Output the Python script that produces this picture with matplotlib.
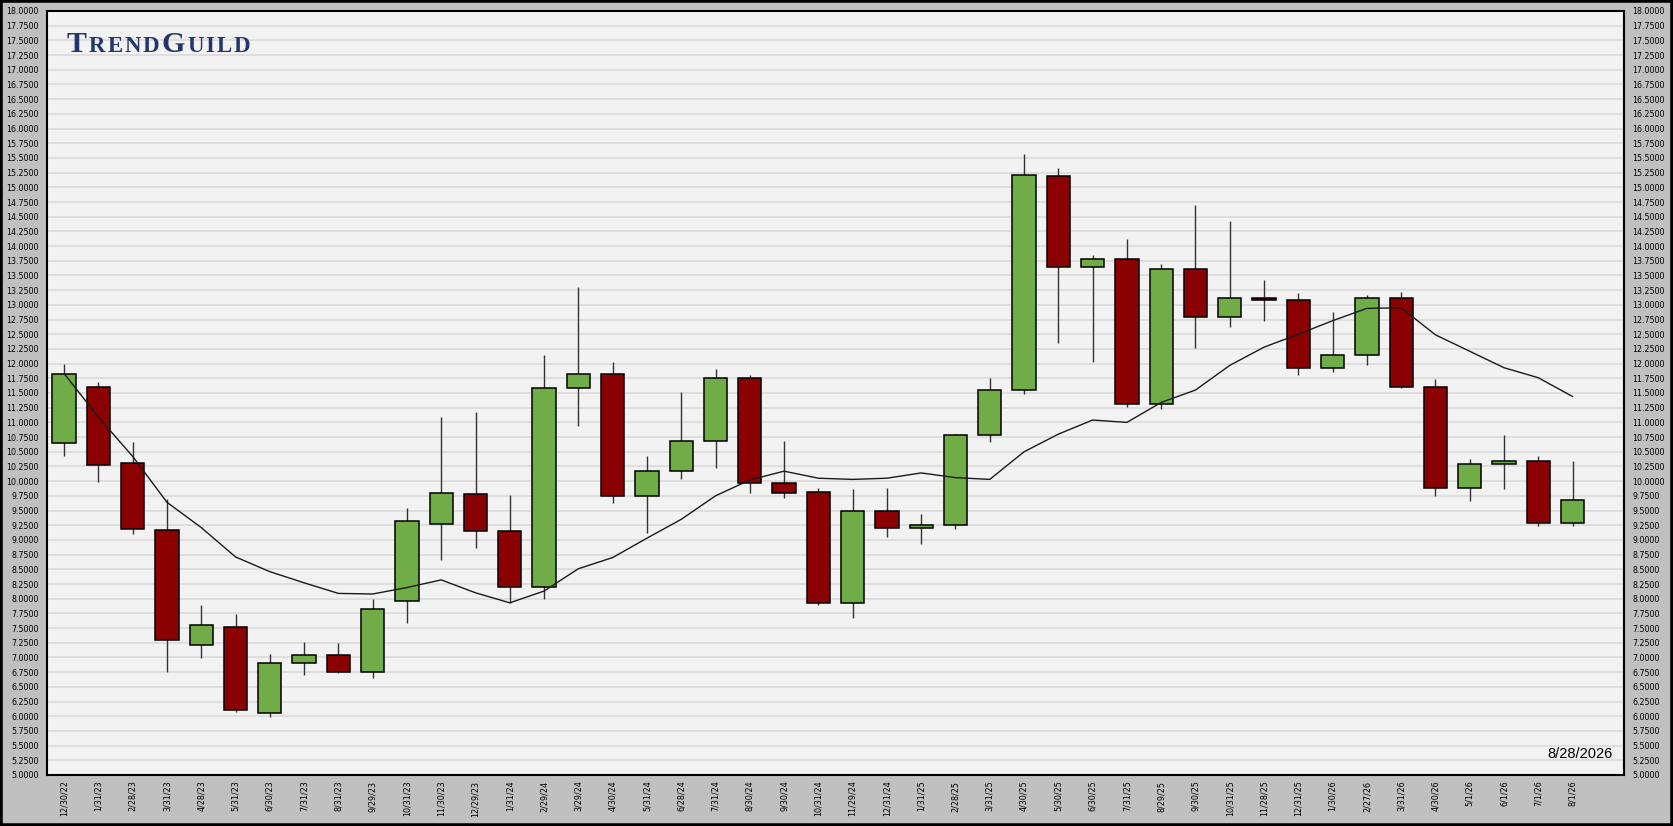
import matplotlib
matplotlib.use("Agg")
import matplotlib.pyplot as plt
from matplotlib.patches import Rectangle
import numpy as np

dates = ["12/30/22", "1/31/23", "2/28/23", "3/31/23", "4/28/23", "5/31/23", "6/30/23",
         "7/31/23", "8/31/23", "9/29/23", "10/31/23", "11/30/23", "12/29/23", "1/31/24",
         "2/29/24", "3/29/24", "4/30/24", "5/31/24", "6/28/24", "7/31/24", "8/30/24",
         "9/30/24", "10/31/24", "11/29/24", "12/31/24", "1/31/25", "2/28/25", "3/31/25",
         "4/30/25", "5/30/25", "6/30/25", "7/31/25", "8/29/25", "9/30/25", "10/31/25",
         "11/28/25", "12/31/25", "1/30/26", "2/27/26", "3/31/26", "4/30/26", "5/1/26",
         "6/1/26", "7/1/26", "8/1/26"]

opens = [10.65, 11.61, 10.31, 9.17, 7.22, 7.52, 6.06, 6.91, 7.04, 6.76, 7.96, 9.27,
         9.78, 9.15, 8.20, 11.59, 11.82, 9.75, 10.17, 10.68, 11.75, 9.97, 9.81, 7.92,
         9.50, 9.20, 9.25, 10.78, 11.55, 15.20, 13.64, 13.78, 11.32, 13.61, 12.79,
         13.11, 13.09, 11.93, 12.14, 13.12, 11.60, 9.89, 10.30, 10.35, 9.28]
highs = [12.00, 11.69, 10.67, 9.69, 7.89, 7.74, 7.06, 7.26, 7.24, 7.99, 9.54, 11.09,
         11.17, 9.76, 12.14, 13.30, 12.02, 10.42, 11.51, 11.91, 11.80, 10.69, 9.89, 9.86,
         9.88, 9.44, 10.80, 11.75, 15.56, 15.33, 13.84, 14.12, 13.69, 14.70, 14.42,
         13.43, 13.20, 12.88, 13.17, 13.22, 11.74, 10.38, 10.79, 10.42, 10.34]
lows = [10.43, 9.99, 9.10, 6.75, 6.99, 6.07, 5.98, 6.70, 6.73, 6.65, 7.59, 8.66,
        8.87, 7.93, 8.00, 10.94, 9.63, 9.12, 10.04, 10.23, 9.80, 9.71, 7.90, 7.67,
        9.05, 8.93, 9.18, 10.66, 11.48, 12.35, 12.03, 11.26, 11.22, 12.26, 12.62,
        12.72, 11.81, 11.85, 11.97, 11.59, 9.74, 9.67, 9.87, 9.24, 9.24]
closes = [11.83, 10.27, 9.18, 7.29, 7.55, 6.10, 6.90, 7.04, 6.76, 7.82, 9.32, 9.80,
          9.15, 8.20, 11.59, 11.82, 9.75, 10.18, 10.68, 11.75, 9.97, 9.79, 7.92, 9.50,
          9.20, 9.25, 10.78, 11.55, 15.21, 13.64, 13.78, 11.32, 13.61, 12.80, 13.11,
          13.09, 11.93, 12.14, 13.12, 11.60, 9.89, 10.30, 10.35, 9.28, 9.68]
moving_avg = [11.83, 11.09, 10.42, 9.64, 9.21, 8.71, 8.46, 8.27, 8.09, 8.08, 8.19, 8.32,
              8.10, 7.93, 8.13, 8.51, 8.70, 9.03, 9.35, 9.75, 10.02, 10.17, 10.05, 10.03,
              10.05, 10.14, 10.06, 10.03, 10.50, 10.80, 11.04, 11.00, 11.34, 11.55, 11.97,
              12.28, 12.50, 12.73, 12.94, 12.95, 12.49, 12.21, 11.93, 11.76, 11.44]
y_ticks = [5 + 0.25 * k for k in range(53)]
date_stamp = "8/28/2026"
logo_parts = [("T", "big"), ("R", "small"), ("E", "small"), ("N", "small"), ("D", "small"),
              ("G", "big"), ("U", "small"), ("I", "small"), ("L", "small"), ("D", "small")]

W, H = 1673, 826
fig = plt.figure(figsize=(W / 100, H / 100), dpi=100, facecolor="#c0c0c0")
ax = fig.add_axes([47 / W, (H - 775) / H, (1624 - 47) / W, (775 - 11) / H])
ax.set_facecolor("#f2f2f2")

x = np.arange(len(dates))
o = np.array(opens); c = np.array(closes)
up = c >= o
colors = np.where(up, "#70ad47", "#8b0000")

ax.vlines(x, lows, highs, color="#333333", lw=1.0, zorder=2)
ax.bar(x, c - o, bottom=o, width=0.68, color=colors, edgecolor="black",
       linewidth=1.1, zorder=3)
ax.plot(x, moving_avg, color="#1a1a1a", lw=1.0, zorder=4)

ax.set_xlim(-0.5, 45.5)
ax.set_ylim(5, 18)
ax.set_yticks(y_ticks)
ax.set_yticklabels([f"{v:.4f}" for v in y_ticks])
ax.yaxis.grid(True, color="#d9d9d9", lw=1.1, zorder=0)
ax.set_axisbelow(True)
ax.set_xticks(x)
ax.set_xticklabels(dates, rotation=90)
ax.tick_params(axis="y", which="both", length=0, labelsize=5.7, labelleft=True,
               labelright=True, colors="black")
ax.tick_params(axis="y", pad=6)
ax.tick_params(axis="x", length=0, pad=4, labelsize=5.8, colors="black")
for lab in ax.get_yticklabels():
    lab.set_family("DejaVu Sans")
for sp in ax.spines.values():
    sp.set_color("black")
    sp.set_linewidth(1.5)

# date stamp
fig.text(1613 / W, 1 - 758 / H, date_stamp, ha="right", va="baseline",
         fontsize=10.5, family="Liberation Sans", color="black")

# logo in small caps
fig.canvas.draw()
renderer = fig.canvas.get_renderer()
navy = "#23366b"
sizes = {"big": 21.5, "small": 16.5}
xpos = 67
for ch, kind in logo_parts:
    t = fig.text(xpos / W, 1 - 52.5 / H, ch, fontsize=sizes[kind], family="Liberation Serif",
                 fontweight="bold", color=navy, ha="left", va="baseline")
    bb = t.get_window_extent(renderer)
    xpos = bb.x1 + 2.0

fig.patches.append(Rectangle((0, 0), 1, 1, transform=fig.transFigure, fill=False,
                             edgecolor="black", lw=4))

fig.savefig("out.png", dpi=100, facecolor=fig.get_facecolor())
